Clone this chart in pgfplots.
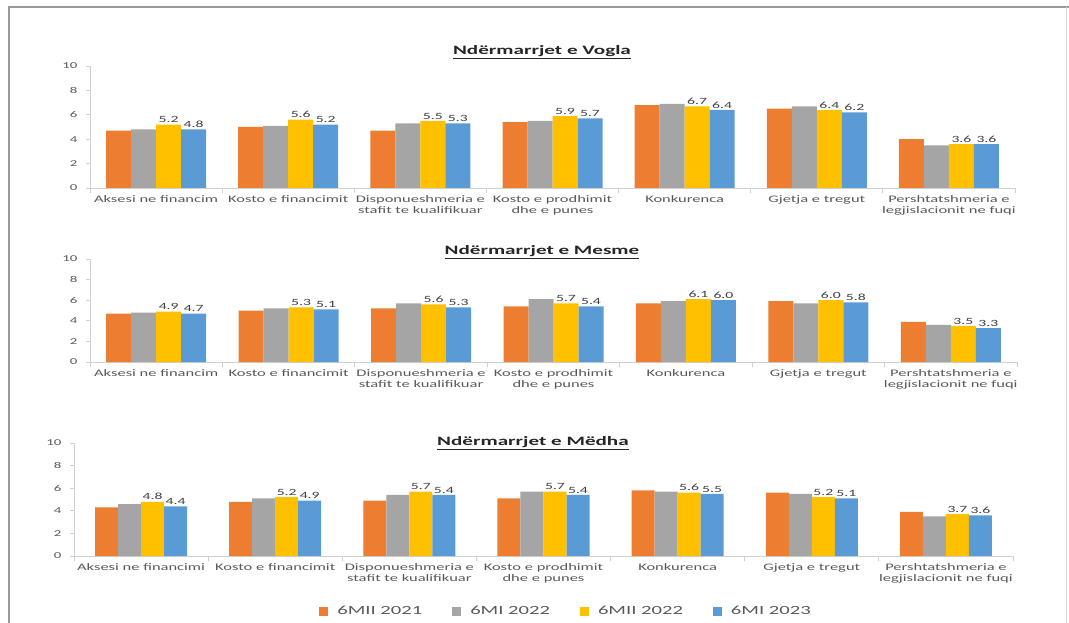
\documentclass[border=0pt]{standalone}
\usepackage{fontspec}
\setmainfont{Carlito}[FakeStretch=1.65]
\usepackage{pgfplots}
\pgfplotsset{compat=1.18}
\definecolor{cOr}{HTML}{ED7D31}
\definecolor{cGr}{HTML}{A5A5A5}
\definecolor{cYe}{HTML}{FFC000}
\definecolor{cBl}{HTML}{5B9BD5}
\definecolor{axg}{HTML}{D0D0D0}
\definecolor{txt}{HTML}{595959}
\definecolor{lab}{HTML}{404040}

\pgfplotsset{
 panel/.style={
  scale only axis, anchor=south west,
  ybar=0pt,
  ymin=0, ymax=10, ytick={0,2,4,6,8,10},
  xmin=-0.5, xmax=6.5, xtick={0,...,6},
  minor xtick={-0.5,0.5,...,6.5},
  major x tick style={draw=none},
  minor tick length=5pt, major tick length=4pt,
  tick align=outside,
  axis x line*=bottom, axis y line*=left,
  axis line style={-, draw=axg, line width=0.8pt},
  every tick/.style={draw=axg, line width=0.8pt},
  /pgf/number format/assume math mode=true,
  yticklabel style={font=\fontsize{9}{10}\selectfont, text=txt, xshift=-5pt},
  xticklabel style={font=\fontsize{10}{11.5}\selectfont, text=txt, align=center, anchor=north},
  legend image code/.code={\fill[#1] (0pt,-4.5pt) rectangle (9pt,4.5pt);},
 },
 lbl/.style={nodes near coords={\pgfmathprintnumber[fixed,fixed zerofill,precision=1]{\pgfplotspointmeta}},
   every node near coord/.append style={font=\fontsize{9.5}{10}\selectfont, text=lab, inner sep=1.5pt}},
}

\begin{document}
\begin{tikzpicture}
\path[use as bounding box] (0,0) rectangle (1069pt,-623pt);
\clip (0,0) rectangle (1069pt,-623pt);
\draw[draw=black!40, line width=2pt] (1080pt,-7pt) -- (9pt,-7pt) -- (9pt,-640pt);
\draw[draw=black!15, line width=1pt] (1066pt,-7pt) -- (1066pt,-640pt);

% Panel 1
\begin{axis}[panel, at={(90pt,-188pt)}, width=925pt, height=122pt, bar width=25pt,
  xticklabels={Aksesi ne financim, Kosto e financimit, {Disponueshmeria e\\stafit te kualifikuar}, {Kosto e prodhimit\\dhe e punes}, Konkurenca, Gjetja e tregut, {Pershtatshmeria e\\legjislacionit ne fuqi}}]
\addplot[fill=cOr, draw=none] coordinates {(0,4.7) (1,5.0) (2,4.7) (3,5.4) (4,6.8) (5,6.5) (6,4.0)};
\addplot[fill=cGr, draw=none] coordinates {(0,4.8) (1,5.1) (2,5.3) (3,5.5) (4,6.9) (5,6.7) (6,3.5)};
\addplot[fill=cYe, draw=none, lbl] coordinates {(0,5.2) (1,5.6) (2,5.5) (3,5.9) (4,6.7) (5,6.4) (6,3.6)};
\addplot[fill=cBl, draw=none, lbl] coordinates {(0,4.8) (1,5.2) (2,5.3) (3,5.7) (4,6.4) (5,6.2) (6,3.6)};
\end{axis}

% Panel 2
\begin{axis}[panel, at={(90pt,-362pt)}, width=927pt, height=103pt, bar width=25pt,
  xticklabels={Aksesi ne financim, Kosto e financimit, {Disponueshmeria e\\stafit te kualifikuar}, {Kosto e prodhimit\\dhe e punes}, Konkurenca, Gjetja e tregut, {Pershtatshmeria e\\legjislacionit ne fuqi}}]
\addplot[fill=cOr, draw=none] coordinates {(0,4.7) (1,5.0) (2,5.2) (3,5.4) (4,5.7) (5,5.9) (6,3.9)};
\addplot[fill=cGr, draw=none] coordinates {(0,4.8) (1,5.2) (2,5.7) (3,6.1) (4,5.9) (5,5.7) (6,3.6)};
\addplot[fill=cYe, draw=none, lbl] coordinates {(0,4.9) (1,5.3) (2,5.6) (3,5.7) (4,6.1) (5,6.0) (6,3.5)};
\addplot[fill=cBl, draw=none, lbl] coordinates {(0,4.7) (1,5.1) (2,5.3) (3,5.4) (4,6.0) (5,5.8) (6,3.3)};
\end{axis}

% Panel 3
\begin{axis}[panel, at={(74pt,-556pt)}, width=939pt, height=113pt, bar width=23pt,
  xticklabels={Aksesi ne financimi, Kosto e financimit, {Disponueshmeria e\\stafit te kualifikuar}, {Kosto e prodhimit\\dhe e punes}, Konkurenca, Gjetja e tregut, {Pershtatshmeria e\\legjislacionit ne fuqi}},
  legend style={at={(0.524,-0.487)}, anchor=center, draw=none, fill=none, legend columns=4,
    font=\fontsize{12.5}{13}\selectfont, text=txt,
    /tikz/every odd column/.append style={column sep=7pt}},
  legend image code/.code={\fill[#1] (0pt,-4.5pt) rectangle (9pt,4.5pt);}]
\addplot[fill=cOr, draw=none] coordinates {(0,4.3) (1,4.8) (2,4.9) (3,5.1) (4,5.8) (5,5.6) (6,3.9)};
\addplot[fill=cGr, draw=none] coordinates {(0,4.6) (1,5.1) (2,5.4) (3,5.7) (4,5.7) (5,5.5) (6,3.5)};
\addplot[fill=cYe, draw=none, lbl] coordinates {(0,4.8) (1,5.2) (2,5.7) (3,5.7) (4,5.6) (5,5.2) (6,3.7)};
\addplot[fill=cBl, draw=none, lbl] coordinates {(0,4.4) (1,4.9) (2,5.4) (3,5.4) (4,5.5) (5,5.1) (6,3.6)};
\legend{6MII 2021\rule{28pt}{0pt}, 6MI 2022\rule{28pt}{0pt}, 6MII 2022\rule{28pt}{0pt}, 6MI 2023}
\end{axis}

\node[font=\bfseries\fontsize{12.8}{14}\selectfont, text=black!85] at (542pt,-52pt) {\underline{Ndërmarrjet e Vogla}};
\node[font=\bfseries\fontsize{12.8}{14}\selectfont, text=black!85] at (542pt,-252pt) {\underline{Ndërmarrjet e Mesme}};
\node[font=\bfseries\fontsize{12.8}{14}\selectfont, text=black!85] at (533pt,-443pt) {\underline{Ndërmarrjet e Mëdha}};
\end{tikzpicture}
\end{document}
